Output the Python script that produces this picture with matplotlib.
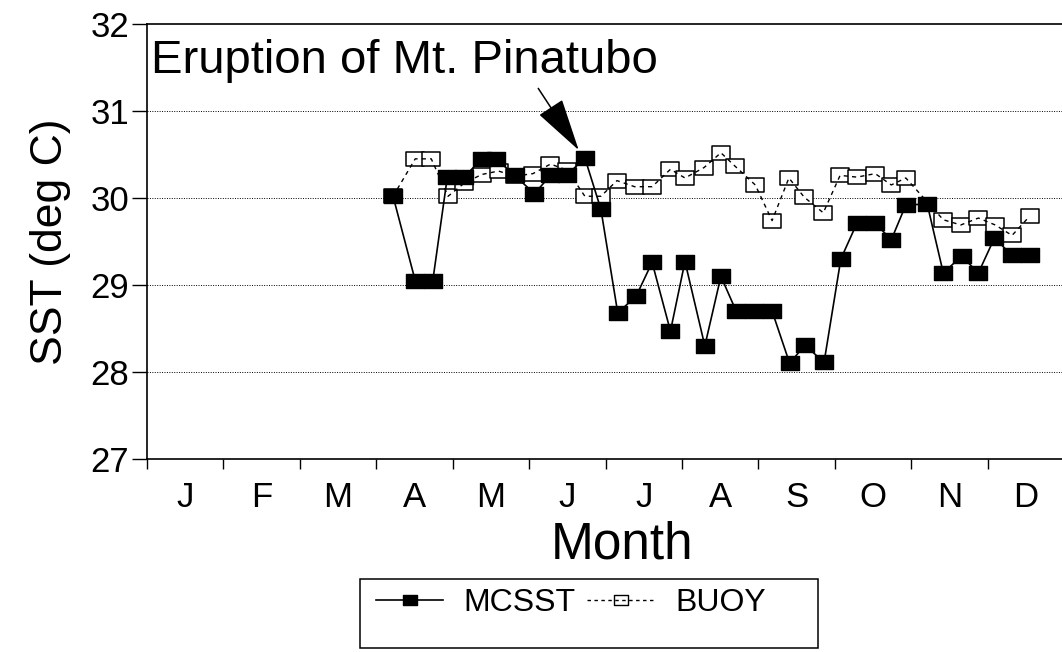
import numpy as np
import matplotlib
matplotlib.use("Agg")
import matplotlib.pyplot as plt
from matplotlib.path import Path
from matplotlib.lines import Line2D
from matplotlib.patches import Rectangle

plt.rcParams["font.family"] = ["Liberation Sans", "DejaVu Sans"]

# x positions are in months since Jan 1 (0 = start of January)
MONTHS = ["J", "F", "M", "A", "M", "J", "J", "A", "S", "O", "N", "D"]

mcsst_t = [3.22, 3.51, 3.74, 3.93, 4.15, 4.38, 4.57, 4.81, 5.07, 5.28, 5.49, 5.73,
           5.94, 6.16, 6.40, 6.61, 6.85, 7.04, 7.30, 7.51, 7.71, 7.94, 8.18, 8.41,
           8.61, 8.86, 9.08, 9.29, 9.53, 9.74, 9.93, 10.21, 10.42, 10.66, 10.88,
           11.09, 11.32, 11.56]
mcsst_sst = [30.02, 29.05, 29.05, 30.24, 30.24, 30.45, 30.45, 30.26, 30.05, 30.26,
             30.26, 30.46, 29.87, 28.68, 28.87, 29.26, 28.47, 29.27, 28.30, 29.10,
             28.70, 28.70, 28.70, 28.10, 28.31, 28.11, 29.30, 29.71, 29.71, 29.52,
             29.92, 29.93, 29.14, 29.33, 29.14, 29.54, 29.34, 29.34]

buoy_t = [3.22, 3.51, 3.72, 3.94, 4.15, 4.38, 4.60, 4.81, 5.05, 5.28, 5.50, 5.73,
          5.94, 6.15, 6.38, 6.61, 6.85, 7.04, 7.29, 7.51, 7.69, 7.96, 8.18, 8.40,
          8.60, 8.85, 9.07, 9.29, 9.53, 9.74, 9.93, 10.42, 10.65, 10.88, 11.10,
          11.32, 11.55]
buoy_sst = [30.02, 30.45, 30.45, 30.02, 30.17, 30.27, 30.31, 30.25, 30.28, 30.39,
            30.32, 30.02, 30.02, 30.20, 30.13, 30.13, 30.33, 30.23, 30.35, 30.52,
            30.37, 30.15, 29.74, 30.23, 30.01, 29.83, 30.26, 30.24, 30.28, 30.15,
            30.23, 29.75, 29.69, 29.77, 29.69, 29.57, 29.79]

# arrow from under the label down to the MCSST point of the eruption week
ARROW_FROM = (5.12, 31.26)
ARROW_TO = (5.65, 30.55)

# flat rectangular marker, wider than tall
box = Path([(-1, -0.76), (1, -0.76), (1, 0.76), (-1, 0.76), (-1, -0.76)],
           [Path.MOVETO, Path.LINETO, Path.LINETO, Path.LINETO, Path.CLOSEPOLY])

W, H = 1062, 652
fig = plt.figure(figsize=(W / 100, H / 100), dpi=100)
ax = fig.add_axes([147 / W, 1 - 459 / H, (1064 - 147) / W, 435 / H])

# buoy: white boxes, dashed line drawn over them
ax.plot(buoy_t, buoy_sst, linestyle="none", marker=box, markersize=12.5,
        markerfacecolor="white", markeredgecolor="black", markeredgewidth=1.1, zorder=3)
ax.plot(buoy_t, buoy_sst, color="black", linestyle=(0, (3, 3)), linewidth=1.0, zorder=4)

ax.plot(mcsst_t, mcsst_sst, color="black", linewidth=1.2, marker=box, markersize=12.5,
        markerfacecolor="black", markeredgecolor="black", zorder=5)

ax.set_xlim(0, 12)
ax.set_ylim(27, 32)

ax.set_yticks([27, 28, 29, 30, 31, 32])
ax.tick_params(axis="y", direction="out", length=11, width=1, pad=2, labelsize=25)
for v in [28, 29, 30, 31]:
    ax.axhline(v, color="black", linestyle=(0, (1, 1.5)), linewidth=0.7, zorder=1)

ax.set_xticks(np.arange(0, 13))
ax.set_xticklabels([])
ax.set_xticks(np.arange(12) + 0.5, minor=True)
ax.set_xticklabels(MONTHS, minor=True)
ax.tick_params(axis="x", which="major", direction="out", length=7, width=1)
ax.tick_params(axis="x", which="minor", length=0, pad=16, labelsize=25)

for s in ["left", "bottom", "top"]:
    ax.spines[s].set_linewidth(1.2)
ax.spines["right"].set_visible(False)

ax.set_ylabel("SST (deg C)", fontsize=32, labelpad=14)
ax.set_xlabel("Month", fontsize=37)
ax.xaxis.set_label_coords(0.518, -0.142)

ax.text(0.004, 0.888, "Eruption of Mt. Pinatubo", transform=ax.transAxes,
        fontsize=34, ha="left", va="baseline", zorder=6)
ax.annotate("", xy=ARROW_TO, xytext=ARROW_FROM, zorder=6,
            arrowprops=dict(arrowstyle="-|>,head_length=1.7,head_width=0.45",
                            mutation_scale=20, color="black", lw=1.1,
                            shrinkA=0, shrinkB=0))

# legend below the plot
h_mcsst = Line2D([], [], color="black", linewidth=1.2, marker=box, markersize=10,
                 markerfacecolor="black", markeredgecolor="black")
h_buoy = Line2D([], [], color="black", linestyle=(0, (2.5, 2.5)), linewidth=1.0,
                marker=box, markersize=10, markerfacecolor="none",
                markeredgecolor="black", markeredgewidth=1.0)
fig.legend([h_mcsst, h_buoy], ["MCSST", "BUOY"], ncol=2, frameon=False,
           loc="center left", bbox_to_anchor=(376 / W, 1 - 603 / H), fontsize=23,
           borderpad=0, borderaxespad=0,
           handlelength=2.1, handletextpad=0.65, columnspacing=0.35)
fig.add_artist(Rectangle((360 / W, 1 - 648 / H), 458 / W, 69 / H,
                         transform=fig.transFigure, fill=False,
                         edgecolor="black", linewidth=1.1))

fig.savefig("out.png", dpi=100)
